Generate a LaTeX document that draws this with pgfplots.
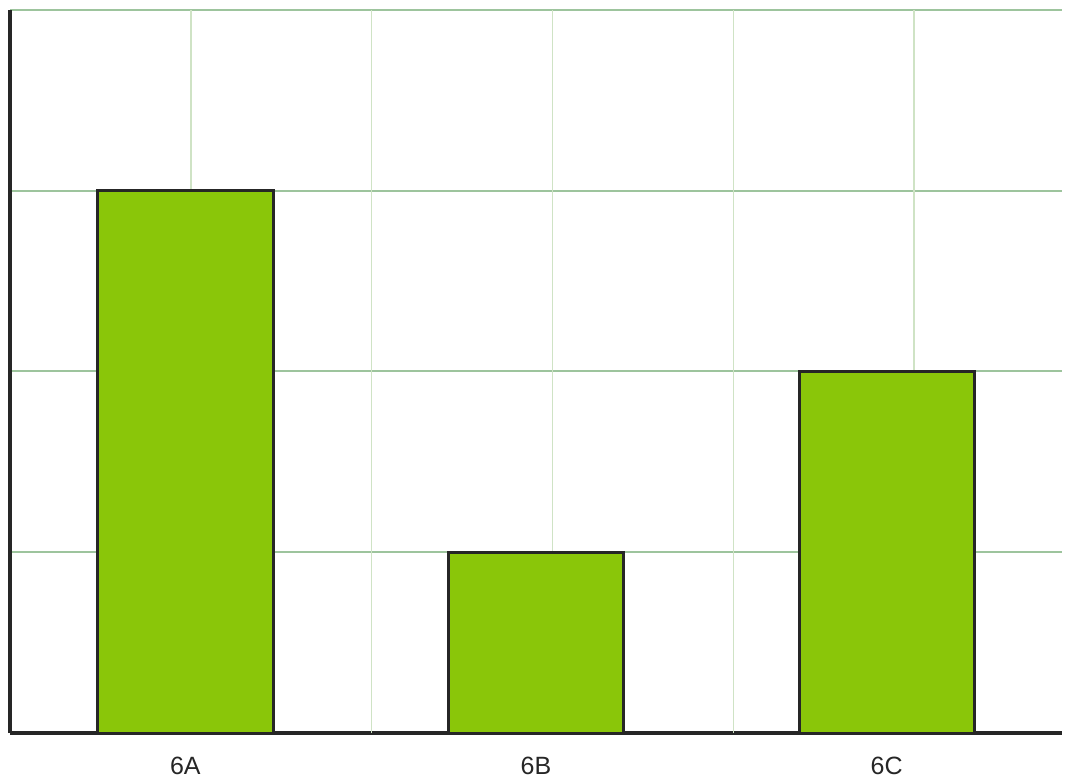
\documentclass[border=0pt]{standalone}
\usepackage{pgfplots}
\pgfplotsset{compat=1.18}
\usepackage{fontspec}
\setmainfont{Liberation Sans}
\definecolor{barfill}{RGB}{138,198,9}
\definecolor{edge}{RGB}{38,38,38}
\definecolor{hgrid}{RGB}{157,196,157}
\definecolor{vgrid}{RGB}{207,227,197}

\begin{document}
\begin{tikzpicture}
  \begin{axis}[
    scale only axis,
    width=526pt,
    height=361.5pt,
    xmin=-0.5, xmax=2.5,
    ymin=0, ymax=4,
    axis x line*=bottom,
    axis y line*=left,
    axis line style={edge, line width=1.6pt, -},
    xtick=data,
    xticklabels={6A,6B,6C},
    ytick={0,1,2,3,4},
    yticklabels={},
    yticklabel style={inner sep=0pt, outer sep=0pt},
    major tick length=0pt,
    ymajorgrids=true,
    major grid style={hgrid, line width=1pt},
    extra x ticks={0.0157,0.5313,1.0470,1.5627,2.0783},
    extra x tick labels={},
    extra x tick style={grid=major, major grid style={vgrid, line width=0.8pt}},
    xticklabel style={font=\fontsize{12.5pt}{14pt}\selectfont, text=edge, yshift=-8.5pt},
    ybar,
    bar width=0.5,
    ]
    \addplot[draw=edge, line width=1.5pt, fill=barfill] coordinates {
      (0,3) (1,1) (2,2)
    };
  \end{axis}
  \pgfresetboundingbox
  \path[use as bounding box] ([shift={(-5pt,-24.5pt)}]current axis.south west) rectangle ([shift={(4pt,5pt)}]current axis.north east);
\end{tikzpicture}
\end{document}
